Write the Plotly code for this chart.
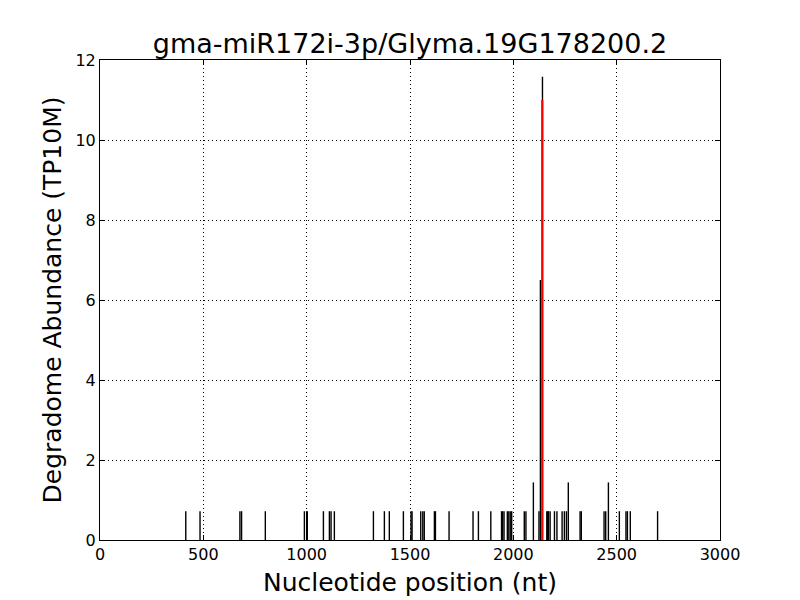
import plotly.graph_objects as go

# ── Data ────────────────────────────────────────────────────────────────────
TITLE = "gma-miR172i-3p/Glyma.19G178200.2"

positions = [
    415, 484, 677, 685, 800, 989, 1000, 1003, 1081, 1110, 1118, 1134,
    1323, 1376, 1400, 1468, 1505, 1510, 1552, 1562, 1569, 1618, 1623,
    1689, 1805, 1831, 1891, 1943, 1948, 1955, 1971, 1978, 1985, 1992,
    2053, 2061, 2097, 2124, 2131, 2141, 2162, 2166, 2170, 2178, 2199,
    2211, 2236, 2247, 2257, 2266, 2323, 2329, 2439, 2447, 2460, 2513,
    2545, 2552, 2566, 2698,
]
abundance = [
    0.72, 0.72, 0.72, 0.72, 0.72, 0.72, 0.72, 0.72, 0.72, 0.72, 0.72, 0.72,
    0.72, 0.72, 0.72, 0.72, 0.72, 0.72, 0.72, 0.72, 0.72, 0.72, 0.72,
    0.72, 0.72, 0.72, 0.72, 0.72, 0.72, 0.72, 0.72, 0.72, 0.72, 0.72,
    0.72, 0.72, 1.44, 0.72, 6.5, 11.58, 0.72, 0.72, 0.72, 0.72, 0.72,
    0.72, 0.72, 0.72, 0.72, 1.44, 0.72, 0.72, 0.72, 0.72, 1.44, 0.72,
    0.72, 0.72, 0.72, 0.72,
]

# predicted cleavage site
cleavage_pos = 2140
cleavage_val = 11.0

FONT = "DejaVu Sans"


def _stems(xs, ys):
    sx, sy = [], []
    for x, y in zip(xs, ys):
        sx += [x, x, None]
        sy += [0, y, None]
    return sx, sy


sx, sy = _stems(positions, abundance)
rx, ry = _stems([cleavage_pos], [cleavage_val])

fig = go.Figure()
fig.add_trace(go.Scatter(
    x=sx, y=sy, mode="lines",
    line=dict(color="black", width=1.4),
    hoverinfo="skip", showlegend=False,
))
fig.add_trace(go.Scatter(
    x=rx, y=ry, mode="lines",
    line=dict(color="#ff0000", width=2.2),
    hoverinfo="skip", showlegend=False,
))

axis_common = dict(
    showline=True, linecolor="black", linewidth=1, mirror="ticks",
    ticks="inside", ticklen=5, tickcolor="black",
    showgrid=True, gridcolor="black", gridwidth=1, griddash="1px,3px",
    zeroline=False, automargin=False,
    tickfont=dict(family=FONT, size=16, color="black"),
)

# page body adds an 8px offset, so margins are shifted to compensate
fig.update_layout(
    width=800, height=600,
    paper_bgcolor="white", plot_bgcolor="white",
    margin=dict(l=92, r=88, t=52, b=68),
    font=dict(family=FONT, color="black"),
    title=dict(
        text=TITLE, x=0.5, xref="paper", y=1 - 36 / 600, yref="container",
        xanchor="center", yanchor="middle", automargin=False,
        font=dict(family=FONT, size=27, color="black"),
    ),
    xaxis=dict(
        range=[0, 3000], tickvals=[0, 500, 1000, 1500, 2000, 2500, 3000],
        title=dict(text="Nucleotide position (nt)", standoff=10,
                   font=dict(family=FONT, size=25, color="black")),
        **axis_common,
    ),
    yaxis=dict(
        range=[0, 12], tickvals=[0, 2, 4, 6, 8, 10, 12],
        title=dict(text="Degradome Abundance (TP10M)", standoff=6,
                   font=dict(family=FONT, size=25, color="black")),
        **axis_common,
    ),
)

fig.write_html("out.html")
